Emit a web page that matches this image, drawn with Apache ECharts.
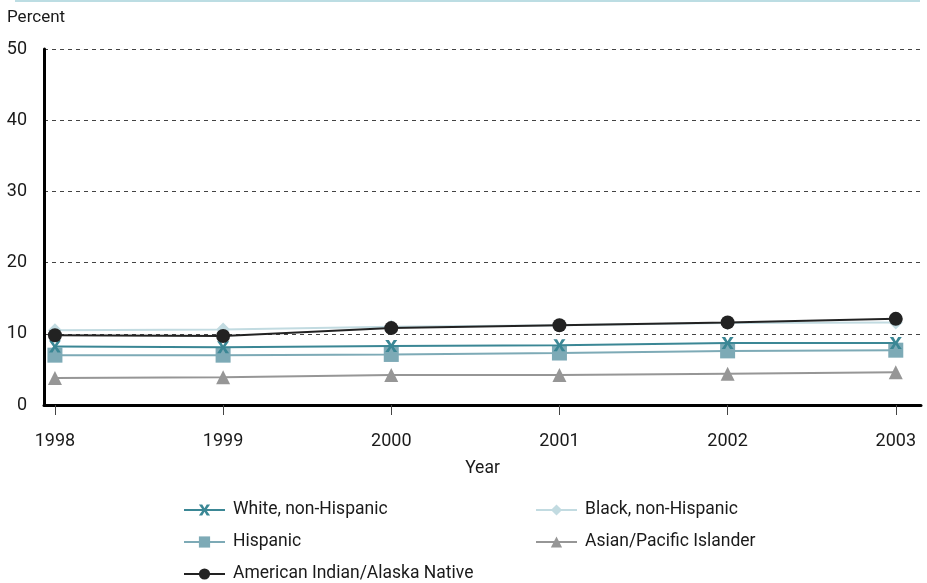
<!DOCTYPE html>
<html><head><meta charset="utf-8">
<script src="https://cdn.jsdelivr.net/npm/echarts@6/dist/echarts.min.js"></script>
<style>html,body{margin:0;padding:0;background:#fff}#c{width:927px;height:583px}</style>
</head><body><div id="c"></div>
<script>
const years = [1998, 1999, 2000, 2001, 2002, 2003];
const white = [8.2, 8.1, 8.3, 8.4, 8.7, 8.7];
const black = [10.5, 10.6, 11.0, 11.2, 11.5, 11.6];
const hispanic = [7.0, 7.0, 7.1, 7.3, 7.6, 7.7];
const asian = [3.8, 3.9, 4.2, 4.2, 4.4, 4.6];
const amind = [9.8, 9.7, 10.8, 11.2, 11.6, 12.1];
const names = ['White, non-Hispanic', 'Black, non-Hispanic', 'Hispanic', 'Asian/Pacific Islander', 'American Indian/Alaska Native'];

const FONT = 'Roboto';
const FS = 17.5;
const TXT = '#1a1a1a';
const xSym = 'path://M0,0 L3,0 L5,3.5 L7,0 L10,0 L6.5,5 L10,10 L7,10 L5,6.5 L3,10 L0,10 L3.5,5 Z';
function pts(v){ return years.map((y,i)=>[y, v[i]]); }
function ser(name, data, color, symbol, size, z){
  return {name, type:'line', data:pts(data), symbol, symbolSize:size, z,
    lineStyle:{color, width:2}, itemStyle:{color}, emphasis:{disabled:true}};
}
function leg(name, left, top){
  return {left, top, padding:0, itemWidth:41, itemHeight:14, itemGap:0, selectedMode:false,
    textStyle:{fontFamily:FONT, fontSize:FS, color:TXT, padding:[0,0,0,3]}, data:[name]};
}
const chart = echarts.init(document.getElementById('c'), null, {renderer:'canvas'});
chart.setOption({
  animation:false,
  textStyle:{fontFamily:FONT},
  grid:{left:44, right:6, top:49, bottom:178, containLabel:false},
  xAxis:{type:'value', min:1997.935, max:2003.15, name:'Year', nameLocation:'middle', nameGap:55,
    nameTextStyle:{fontFamily:FONT, fontSize:FS, color:TXT},
    axisLine:{lineStyle:{color:'#000', width:3}},
    axisTick:{show:true, length:10, lineStyle:{color:'#444', width:1}, customValues:years},
    axisLabel:{fontFamily:FONT, fontSize:18, color:TXT, margin:27, customValues:years, formatter:v=>String(v)},
    splitLine:{show:false}},
  yAxis:{type:'value', min:0, max:50, interval:10,
    axisLine:{show:true, lineStyle:{color:'#000', width:3}},
    axisTick:{show:false},
    axisLabel:{fontFamily:FONT, fontSize:18, color:TXT, margin:17},
    splitLine:{lineStyle:{color:'#444', type:[4,4], width:1}}},
  legend:[
    leg(names[0], 183, 501),
    leg(names[2], 183, 533),
    leg(names[4], 183, 565),
    leg(names[1], 535, 501),
    leg(names[3], 535, 533)
  ],
  graphic:[
    {type:'line', shape:{x1:15,y1:1,x2:920,y2:1}, style:{stroke:'#bcdde3', lineWidth:2}},
    {type:'text', left:7, top:9, style:{text:'Percent', fontFamily:FONT, fontSize:17, fill:TXT}}
  ],
  series:[
    ser(names[1], black, '#c2dbe1', 'diamond', 14, 2),
    ser(names[3], asian, '#969696', 'triangle', 14, 3),
    ser(names[2], hispanic, '#7daab6', 'rect', 15, 4),
    ser(names[0], white, '#3b8795', xSym, 12, 5),
    ser(names[4], amind, '#222222', 'circle', 14, 6)
  ]
});
</script></body></html>
